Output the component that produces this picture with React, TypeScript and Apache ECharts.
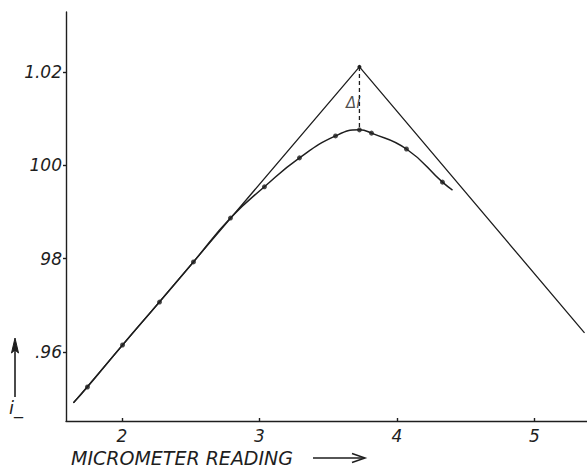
import React, { useEffect, useRef } from "react";
import * as echarts from "echarts";

// Axis ticks and their printed labels
const xTicks = [2, 3, 4, 5];
const yTicks = [0.96, 0.98, 1.0, 1.02];
const yTickLabels = [".96", "98", "100", "1.02"];

// Measured points of the i_ curve
const curveX = [1.749, 2.004, 2.273, 2.52, 2.789, 3.036, 3.291, 3.553, 3.727, 3.815, 4.069, 4.331];
const curveY = [0.9525, 0.9615, 0.9707, 0.9793, 0.9887, 0.9954, 1.0016, 1.0063, 1.0076, 1.0069, 1.0035, 0.9964];
// Unmarked ends of the drawn curve
const curveStart = [1.647, 0.9491];
const curveEnd = [4.404, 0.9947];

// The two straight asymptotes meeting at the apex
const tangentX = [1.647, 3.727, 5.364];
const tangentY = [0.9491, 1.0211, 0.9641];

// Δi: from the apex down to the maximum of the curve
const deltaX = 3.727;
const deltaTop = 1.0211;
const deltaBottom = 1.0076;

const INK = "#1e1e1e";
const FONT = "DejaVu Sans";

export default function App() {
  const ref = useRef<HTMLDivElement>(null);

  useEffect(() => {
    if (!ref.current) return;
    const chart = echarts.init(ref.current, null, { renderer: "svg" });

    const curveData = [
      curveStart,
      ...curveX.map((x, i) => [x, curveY[i]]),
      curveEnd,
    ];
    const markerData = curveX.map((x, i) => [x, curveY[i]]);
    const tangentData = tangentX.map((x, i) => [x, tangentY[i]]);

    chart.setOption({
      animation: false,
      backgroundColor: "#ffffff",
      grid: { left: 66, right: 0, top: 12, bottom: 47 },
      xAxis: {
        type: "value",
        min: 1.593,
        max: 5.382,
        axisLine: { show: true, lineStyle: { color: INK, width: 1.4 } },
        axisTick: { show: true, inside: true, length: 3, customValues: xTicks, lineStyle: { color: INK, width: 1.4 } },
        axisLabel: {
          customValues: xTicks,
          formatter: (v: number) => String(v),
          color: INK,
          fontFamily: FONT,
          fontStyle: "italic",
          fontSize: 17,
          margin: 6,
        },
        splitLine: { show: false },
      },
      yAxis: {
        type: "value",
        min: 0.94521,
        max: 1.03286,
        axisLine: { show: true, lineStyle: { color: INK, width: 1.4 } },
        axisTick: { show: true, inside: false, length: 3, customValues: yTicks, lineStyle: { color: INK, width: 1.4 } },
        axisLabel: {
          customValues: yTicks,
          formatter: (v: number) => {
            const i = yTicks.findIndex((t) => Math.abs(t - v) < 1e-6);
            return i >= 0 ? yTickLabels[i] : "";
          },
          color: INK,
          fontFamily: FONT,
          fontStyle: "italic",
          fontSize: 17,
          margin: 4,
        },
        splitLine: { show: false },
      },
      series: [
        {
          type: "line",
          data: tangentData,
          symbol: "circle",
          symbolSize: (_v: number[], p: any) => (p.dataIndex === 1 ? 4 : 0),
          showSymbol: true,
          itemStyle: { color: INK },
          lineStyle: { color: INK, width: 1.3 },
          silent: true,
        },
        {
          type: "line",
          data: curveData,
          smooth: 0.5,
          showSymbol: false,
          lineStyle: { color: INK, width: 1.5 },
          silent: true,
        },
        {
          type: "scatter",
          data: markerData,
          symbol: "circle",
          symbolSize: 5,
          itemStyle: { color: INK },
          silent: true,
        },
        {
          type: "line",
          data: [
            [deltaX, deltaTop],
            [deltaX, deltaBottom],
          ],
          showSymbol: false,
          lineStyle: { color: INK, width: 1.3, type: [4, 3] },
          silent: true,
        },
        {
          type: "scatter",
          data: [[deltaX, (deltaTop + deltaBottom) / 2]],
          symbolSize: 0,
          label: {
            show: true,
            formatter: "Δi",
            position: "left",
            distance: -1,
            offset: [0, 5],
            color: INK,
            fontFamily: FONT,
            fontStyle: "italic",
            fontSize: 15,
          },
          silent: true,
        },
      ],
      graphic: [
        {
          type: "text",
          style: {
            x: 71,
            y: 458,
            text: "MICROMETER READING",
            fill: INK,
            font: `italic 19px "${FONT}"`,
            verticalAlign: "middle",
            lineHeight: 18,
          },
        },
        {
          type: "line",
          shape: { x1: 313, y1: 458, x2: 364, y2: 458 },
          style: { stroke: INK, lineWidth: 1.5 },
        },
        {
          type: "polyline",
          shape: { points: [[352, 453.5], [365, 458], [352, 462.5]] },
          style: { stroke: INK, lineWidth: 1.5, fill: "none" },
        },
        {
          type: "line",
          shape: { x1: 15, y1: 397, x2: 15, y2: 345 },
          style: { stroke: INK, lineWidth: 1.6 },
        },
        {
          type: "polygon",
          shape: { points: [[15, 338], [11.5, 353], [15, 350], [18.5, 353]] },
          style: { fill: INK, stroke: INK, lineWidth: 1 },
        },
        {
          type: "text",
          left: 9,
          top: 398,
          style: {
            text: "i_",
            fill: INK,
            font: `italic 18px "${FONT}"`,
          },
        },
      ],
    });

    return () => chart.dispose();
  }, []);

  return (
    <div
      ref={ref}
      style={{ position: "absolute", left: 0, top: 0, width: 587, height: 468 }}
    />
  );
}
